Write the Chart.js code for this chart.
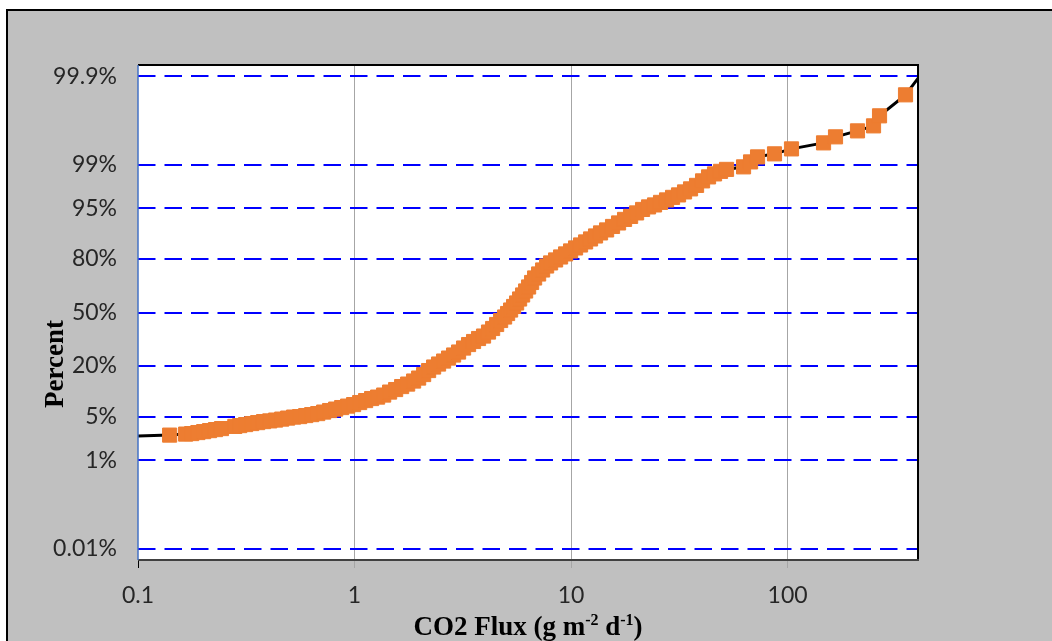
<!DOCTYPE html>
<html>
<head>
<meta charset="utf-8">
<script src="https://cdn.jsdelivr.net/npm/chart.js@4/dist/chart.umd.min.js"></script>
<style>
    body { margin: 0; background: #fff; }
    canvas { display: block; }
</style>
</head>
<body>
<canvas id="fluxChart" width="1052" height="641"></canvas>
<script>
// Cumulative distribution of CO2 flux, plotted on a normal probability axis.
// The y values are normal scores (z), the labels show the matching percentages.
const fluxValues = [
    0.140, 0.166, 0.177, 0.189, 0.201, 0.214, 0.228, 0.243, 0.280, 0.295,
    0.314, 0.335, 0.357, 0.380, 0.406, 0.432, 0.461, 0.491, 0.523, 0.558,
    0.595, 0.634, 0.676, 0.720, 0.767, 0.818, 0.872, 0.929, 0.990, 1.056,
    1.125, 1.199, 1.278, 1.363, 1.452, 1.548, 1.650, 1.759, 1.874, 1.977,
    2.085, 2.198, 2.318, 2.444, 2.578, 2.718, 2.867, 3.023, 3.188, 3.362,
    3.545, 3.738, 3.942, 4.157, 4.342, 4.531, 4.728, 4.932, 5.092, 5.257,
    5.427, 5.603, 5.785, 5.973, 6.167, 6.366, 6.573, 6.786, 7.081, 7.389,
    7.710, 8.044, 8.482, 8.945, 9.433, 9.947, 10.49, 11.06, 11.67, 12.30,
    12.97, 13.68, 14.59, 15.54, 16.57, 17.66, 18.83, 20.07, 21.39, 22.79,
    24.29, 25.89, 27.60, 29.42, 31.35, 33.42, 35.62, 37.97, 40.47, 43.13,
    45.97, 49.00, 52.23, 62.58, 67.43, 72.62, 86.99, 104.2, 146.5, 166.4,
    210.2, 249.3, 265.7, 350.3
];
const normalScores = [
    -1.932, -1.916, -1.908, -1.892, -1.877, -1.861, -1.845, -1.829, -1.795, -1.782,
    -1.766, -1.750, -1.735, -1.719, -1.708, -1.695, -1.680, -1.664, -1.648, -1.640,
    -1.624, -1.609, -1.593, -1.569, -1.545, -1.522, -1.498, -1.475, -1.451, -1.419,
    -1.388, -1.356, -1.333, -1.301, -1.254, -1.214, -1.167, -1.128, -1.080, -1.033,
    -0.978, -0.915, -0.859, -0.812, -0.765, -0.718, -0.670, -0.623, -0.560, -0.505,
    -0.457, -0.410, -0.371, -0.308, -0.252, -0.189, -0.126, -0.071, -0.016, 0.039,
    0.095, 0.150, 0.213, 0.276, 0.339, 0.402, 0.473, 0.544, 0.607, 0.670,
    0.733, 0.781, 0.828, 0.875, 0.923, 0.970, 1.017, 1.064, 1.112, 1.159,
    1.206, 1.254, 1.301, 1.356, 1.411, 1.467, 1.514, 1.569, 1.624, 1.664,
    1.695, 1.735, 1.774, 1.814, 1.853, 1.900, 1.948, 2.003, 2.074, 2.137,
    2.184, 2.224, 2.255, 2.295, 2.373, 2.452, 2.500, 2.578, 2.673, 2.768,
    2.862, 2.941, 3.099, 3.430
];
// black curve runs a little past the first and last points
const curveStart = { x: 0.1, y: -1.948 };
const curveEnd = { x: 400, y: 3.69 };

const xTickValues = [0.1, 1, 10, 100];
const xTickLabels = ['0.1', '1', '10', '100'];
const yTickValues = [-3.719, -2.326, -1.645, -0.842, 0, 0.842, 1.645, 2.326, 3.719];
const yTickLabels = ['0.01%', '1%', '5%', '20%', '50%', '80%', '95%', '99%', '99.9%'];

const points = fluxValues.map((v, i) => ({ x: v, y: normalScores[i] }));

const framePlugin = {
    id: 'frame',
    beforeDraw(chart) {
        const { ctx, chartArea: a } = chart;
        ctx.save();
        ctx.fillStyle = '#fff';
        ctx.fillRect(0, 0, chart.width, chart.height);
        ctx.fillStyle = '#c0c0c0';
        ctx.fillRect(8, 11, chart.width - 8, chart.height - 11);
        ctx.strokeStyle = '#000';
        ctx.lineWidth = 2;
        ctx.beginPath();
        ctx.moveTo(7, chart.height);
        ctx.lineTo(7, 10);
        ctx.lineTo(chart.width, 10);
        ctx.stroke();
        ctx.fillStyle = '#fff';
        ctx.fillRect(a.left, a.top, a.right - a.left, a.bottom - a.top);
        ctx.restore();
    },
    afterDraw(chart) {
        const { ctx, chartArea: a } = chart;
        ctx.save();
        // plot area border
        ctx.lineWidth = 2;
        ctx.strokeStyle = '#000';
        ctx.beginPath();
        ctx.moveTo(a.left, a.top);
        ctx.lineTo(a.right, a.top);
        ctx.lineTo(a.right, a.bottom);
        ctx.stroke();
        ctx.strokeStyle = '#404040';
        ctx.beginPath();
        ctx.moveTo(a.left, a.bottom);
        ctx.lineTo(a.right + 1, a.bottom);
        ctx.stroke();
        ctx.lineWidth = 1.5;
        ctx.strokeStyle = '#4472c4';
        ctx.beginPath();
        ctx.moveTo(a.left, a.top);
        ctx.lineTo(a.left, a.bottom);
        ctx.stroke();

        // axis titles
        ctx.fillStyle = '#000';
        ctx.textBaseline = 'alphabetic';
        const big = 'bold 27px "Liberation Serif", "Times New Roman", serif';
        const small = 'bold 16px "Liberation Serif", "Times New Roman", serif';
        const parts = [
            ['CO2 Flux (g m', big, 0],
            ['-2', small, -10],
            [' d', big, 0],
            ['-1', small, -10],
            [')', big, 0]
        ];
        let total = 0;
        parts.forEach(p => { ctx.font = p[1]; total += ctx.measureText(p[0]).width; });
        let x = (a.left + a.right) / 2 - total / 2;
        ctx.textAlign = 'left';
        parts.forEach(p => {
            ctx.font = p[1];
            ctx.fillText(p[0], x, 635 + p[2]);
            x += ctx.measureText(p[0]).width;
        });

        ctx.translate(63, 364);
        ctx.rotate(-Math.PI / 2);
        ctx.font = big;
        ctx.textAlign = 'center';
        ctx.fillText('Percent', 0, 0);
        ctx.restore();
    }
};

new Chart(document.getElementById('fluxChart'), {
    type: 'scatter',
    data: {
        datasets: [{
            label: 'CO2 Flux',
            data: points,
            pointStyle: 'rect',
            pointRadius: 10,
            pointBorderWidth: 1,
            backgroundColor: '#ed7d31',
            borderColor: '#ed7d31'
        }, {
            label: 'Curve',
            data: [curveStart, ...points, curveEnd],
            showLine: true,
            borderColor: '#000',
            borderWidth: 3,
            pointRadius: 0,
            tension: 0,
            clip: 0
        }]
    },
    options: {
        responsive: false,
        animation: false,
        layout: { padding: { left: 38, right: 134, top: 65, bottom: 0 } },
        plugins: {
            legend: { display: false },
            tooltip: { enabled: false }
        },
        scales: {
            x: {
                type: 'logarithmic',
                min: 0.1,
                max: 400,
                afterBuildTicks: s => { s.ticks = xTickValues.map(v => ({ value: v })); },
                afterFit: s => { s.height = 81; },
                ticks: {
                    autoSkip: false,
                    maxRotation: 0,
                    padding: 14,
                    color: '#262626',
                    font: { family: 'Lato', size: 23 },
                    callback: (v, i) => xTickLabels[i]
                },
                grid: {
                    color: c => c.index === 0 ? 'rgba(0,0,0,0)' : '#a6a6a6',
                    tickColor: c => c.index === 0 ? '#000' : '#a6a6a6',
                    tickLength: 8,
                    lineWidth: 1
                },
                border: { display: false }
            },
            y: {
                min: -3.9,
                max: 3.9,
                afterBuildTicks: s => { s.ticks = yTickValues.map(v => ({ value: v })); },
                afterFit: s => { s.width = 100; },
                ticks: {
                    autoSkip: false,
                    padding: 21,
                    color: '#262626',
                    font: { family: 'Lato', size: 23 },
                    callback: (v, i) => yTickLabels[i]
                },
                grid: {
                    color: '#0000ff',
                    lineWidth: 2,
                    drawTicks: false
                },
                border: { display: false, dash: [17.5, 9] }
            }
        }
    },
    plugins: [framePlugin]
});
</script>
</body>
</html>
